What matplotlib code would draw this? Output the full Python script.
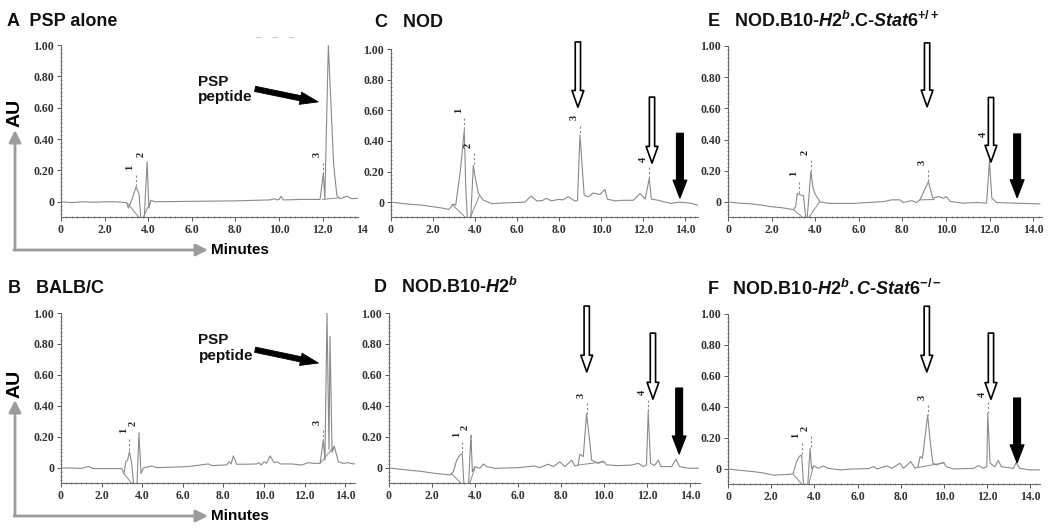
import matplotlib
matplotlib.use('Agg')
import matplotlib.pyplot as plt
from matplotlib.ticker import MultipleLocator, FixedLocator
from matplotlib.patches import FancyArrowPatch

W, H = 1050, 531

plt.rcParams['font.family'] = ['Liberation Sans', 'DejaVu Sans']
plt.rcParams['mathtext.fontset'] = 'custom'
plt.rcParams['mathtext.rm'] = 'Liberation Sans:bold'
plt.rcParams['mathtext.bf'] = 'Liberation Sans:bold'
plt.rcParams['mathtext.it'] = 'Liberation Sans:italic:bold'

# ---- chromatogram traces (minutes, AU) ----
A_TIME = [0, 0.5, 1.0, 1.5, 2.0, 2.5, 3.0, 3.09, 3.27, 3.44, 3.58, 3.68, 3.8, 3.95, 4.03, 4.12,
          4.3, 6.0, 8.0, 9.6, 9.8, 9.9, 10.0, 10.09, 10.2, 11.0, 11.88, 12.03, 12.1, 12.26,
          12.5, 12.65, 12.8, 13.1, 13.33, 13.7]
A_AU = [0, -0.005, 0.0, -0.003, 0.0, 0.0, -0.005, -0.04, 0.02, 0.095, 0.05, -0.15, -0.15, 0.255,
        -0.04, 0.01, 0.0, 0.003, 0.006, 0.012, 0.02, 0.012, 0.015, 0.035, 0.012, 0.015, 0.015,
        0.18, 0.02, 1.0, 0.245, 0.04, 0.02, 0.035, 0.02, 0.022]

B_TIME = [0, 0.5, 1.0, 1.35, 1.6, 2.0, 2.99, 3.1, 3.19, 3.28, 3.37, 3.48, 3.61, 3.73, 3.84, 3.94,
          4.06, 4.47, 4.7, 6.27, 7.26, 7.45, 8.16, 8.28, 8.38, 8.49, 8.65, 9.06, 9.64, 9.75,
          9.87, 10.0, 10.12, 10.3, 10.5, 10.65, 10.8, 11.36, 11.85, 12.18, 12.42, 12.76, 12.92,
          13.0, 13.1, 13.2, 13.25, 13.35, 13.46, 13.66, 13.9, 14.15, 14.4, 14.55]
B_AU = [0, 0.0, -0.003, 0.01, -0.004, -0.004, -0.004, -0.035, 0.04, 0.05, 0.105, 0.03, -0.15,
        -0.15, 0.224, -0.035, 0.0, 0.013, 0.002, 0.009, 0.026, 0.015, 0.02, 0.04, 0.026, 0.078,
        0.024, 0.024, 0.026, 0.034, 0.019, 0.04, 0.03, 0.078, 0.034, 0.04, 0.026, 0.026, 0.019,
        0.034, 0.03, 0.03, 0.18, 0.05, 1.0, 0.12, 0.85, 0.1, 0.14, 0.04, 0.03, 0.034, 0.026, 0.03]

C_TIME = [0, 0.5, 1.0, 1.5, 2.0, 2.5, 2.75, 2.97, 3.08, 3.3, 3.49, 3.56, 3.65, 3.78, 3.92, 4.0,
          4.16, 4.4, 4.8, 5.4, 6.38, 6.67, 6.94, 7.2, 7.4, 7.65, 7.97, 8.2, 8.44, 8.75, 8.88,
          9.0, 9.2, 9.4, 9.63, 9.95, 10.19, 10.3, 10.67, 11.0, 11.54, 11.86, 12.1, 12.3, 12.4,
          12.73, 13.05, 13.37, 13.68, 14.0, 14.3, 14.6]
C_AU = [0.0, -0.008, -0.015, -0.02, -0.03, -0.04, -0.048, -0.013, -0.02, 0.2, 0.47, 0.1, -0.15,
        -0.15, 0.24, 0.17, 0.057, 0.013, -0.01, -0.005, 0.0, 0.04, 0.008, 0.01, 0.025, 0.008,
        0.018, 0.015, 0.035, 0.008, 0.01, 0.44, 0.045, 0.035, 0.06, 0.05, 0.083, 0.02, 0.008,
        0.012, 0.012, 0.057, 0.02, 0.155, 0.02, 0.012, 0.0, -0.008, 0.0, -0.003, -0.008, -0.02]

D_TIME = [0, 0.5, 1.0, 1.5, 2.14, 2.5, 2.84, 2.99, 3.15, 3.3, 3.41, 3.5, 3.69, 3.81, 3.88, 4.0,
          4.23, 4.39, 4.54, 4.93, 6.0, 6.79, 7.0, 7.41, 7.65, 7.95, 8.18, 8.5, 8.65, 8.8, 8.88,
          9.04, 9.19, 9.3, 9.43, 9.74, 9.97, 10.12, 10.67, 11.29, 11.6, 11.83, 11.98, 12.06,
          12.17, 12.35, 12.53, 12.65, 13.15, 13.35, 13.52, 13.92, 14.39]
D_AU = [0, -0.008, -0.015, -0.022, -0.035, -0.04, -0.045, -0.024, 0.05, 0.084, 0.09, -0.15,
        -0.15, 0.213, -0.024, 0.009, -0.002, 0.026, 0.009, -0.002, 0.002, 0.013, 0.002, 0.024,
        0.009, 0.04, 0.009, 0.05, 0.013, 0.019, 0.09, 0.073, 0.35, 0.22, 0.05, 0.03, 0.045,
        0.02, 0.015, 0.019, 0.03, 0.009, 0.019, 0.365, 0.03, 0.015, 0.05, 0.009, 0.009, 0.056,
        0.009, -0.002, -0.002]

E_TIME = [0, 0.5, 1.0, 1.5, 1.93, 2.5, 3.0, 3.1, 3.18, 3.3, 3.46, 3.6, 3.68, 3.8, 3.9, 4.0,
          4.22, 4.68, 5.75, 6.67, 7.13, 7.5, 7.89, 8.04, 8.42, 8.65, 8.8, 9.19, 9.39, 9.65,
          9.88, 10.0, 10.2, 10.8, 11.4, 11.86, 11.99, 12.1, 12.32, 13.1, 14.3]
E_AU = [0, -0.008, -0.012, -0.02, -0.03, -0.038, -0.05, -0.03, 0.055, 0.045, 0.04, -0.15,
        -0.02, 0.195, 0.09, 0.05, 0.0, -0.01, -0.01, -0.002, 0.002, 0.013, 0.013, -0.004,
        0.008, -0.004, 0.013, 0.13, 0.023, 0.034, 0.023, 0.034, 0.002, -0.008, -0.004, -0.008,
        0.26, 0.023, -0.004, -0.008, -0.013]

F_TIME = [0, 0.5, 1.17, 1.6, 2.1, 2.5, 2.87, 3.02, 3.15, 3.29, 3.41, 3.52, 3.67, 3.8, 3.87,
          3.98, 4.18, 4.41, 4.64, 5.19, 5.8, 6.5, 6.73, 6.9, 7.35, 7.58, 7.96, 8.12, 8.46, 8.66,
          8.8, 8.89, 9.0, 9.24, 9.35, 9.48, 9.66, 9.97, 10.1, 10.43, 11.36, 11.59, 11.82, 11.98,
          12.02, 12.13, 12.35, 12.51, 12.65, 13.21, 13.33, 13.5, 13.98, 14.44]
F_AU = [0, -0.008, -0.017, -0.025, -0.04, -0.037, -0.035, -0.028, 0.037, 0.08, 0.09, -0.15,
        -0.15, 0.133, 0.0, 0.02, 0.004, 0.02, 0.004, -0.006, 0.0, 0.002, 0.015, 0.0, 0.02,
        0.004, 0.037, 0.004, 0.047, 0.004, 0.015, 0.08, 0.069, 0.348, 0.19, 0.037, 0.026,
        0.043, 0.015, 0.0, 0.004, 0.022, 0.004, 0.015, 0.36, 0.037, 0.015, 0.054, 0.015, 0.004,
        0.04, 0.004, -0.006, -0.006]

# integration drop lines (t0, y0, t1, y1)
A_DROPS = [(3.05, -0.01, 3.7, -0.12), (3.7, -0.12, 4.1, 0.0), (12.0, 0.015, 12.7, 0.025)]
B_DROPS = [(3.1, -0.035, 3.6, -0.12), (12.76, 0.03, 13.46, 0.14)]
C_DROPS = [(2.9, -0.015, 3.7, -0.12), (3.72, -0.12, 4.2, 0.04)]
D_DROPS = [(2.9, -0.035, 3.5, -0.12), (3.7, -0.12, 4.0, 0.0), (8.8, 0.019, 10.0, 0.04)]
E_DROPS = [(3.0, -0.05, 3.6, -0.12), (3.6, -0.12, 4.2, 0.0), (8.8, 0.013, 9.45, 0.015)]
F_DROPS = [(3.0, -0.03, 3.55, -0.12), (3.7, -0.12, 3.95, 0.02), (8.8, 0.01, 10.0, 0.04)]

# numbered peak marks (label, t, dashed top, dashed bottom)
A_PEAKS = [('1', 3.44, 0.17, 0.10), ('2', 3.93, 0.25, 0.24), ('3', 12.0, 0.25, 0.18)]
B_PEAKS = [('1', 3.35, 0.19, 0.105), ('2', 3.84, 0.235, 0.224), ('3', 12.9, 0.245, 0.18)]
C_PEAKS = [('1', 3.49, 0.55, 0.47), ('2', 3.94, 0.32, 0.24), ('3', 9.0, 0.50, 0.45),
           ('4', 12.3, 0.23, 0.155)]
D_PEAKS = [('1', 3.41, 0.17, 0.095), ('2', 3.81, 0.21, 0.15), ('3', 9.22, 0.42, 0.35),
           ('4', 12.06, 0.44, 0.365)]
E_PEAKS = [('1', 3.26, 0.13, 0.055), ('2', 3.8, 0.27, 0.195), ('3', 9.19, 0.205, 0.13),
           ('4', 11.99, 0.385, 0.26)]
F_PEAKS = [('1', 3.41, 0.165, 0.09), ('2', 3.83, 0.21, 0.133), ('3', 9.27, 0.41, 0.348),
           ('4', 12.02, 0.43, 0.36)]

# block arrows (t, y_top, y_tip)
C_OPEN = [(8.9, 1.046, 0.62), (12.43, 0.686, 0.255)]
C_BLACK = [(13.76, 0.45, 0.026)]
D_OPEN = [(9.2, 1.045, 0.62), (12.28, 0.87, 0.445)]
D_BLACK = [(13.5, 0.516, 0.09)]
E_OPEN = [(9.13, 1.02, 0.61), (12.06, 0.67, 0.256)]
E_BLACK = [(13.26, 0.436, 0.026)]
F_OPEN = [(9.2, 1.05, 0.626), (12.17, 0.877, 0.45)]
F_BLACK = [(13.38, 0.458, 0.039)]

X_TICKS = [0, 2, 4, 6, 8, 10, 12, 14]
X_LABELS = ['0', '2.0', '4.0', '6.0', '8.0', '10.0', '12.0', '14.0']
Y_TICKS = [0, 0.2, 0.4, 0.6, 0.8, 1.0]
Y_LABELS = ['0', '0.20', '0.40', '0.60', '0.80', '1.00']

TRACE = '#8a8a8a'
SERIF = 'Liberation Serif'


def fig_xy(x, y):
    return x / W, 1 - y / H


def make_axes(fig, left, right, top, bottom, xmax):
    ax = fig.add_axes([left / W, 1 - bottom / H, (right - left) / W, (bottom - top) / H])
    ax.set_xlim(0, xmax)
    ax.set_ylim(-0.097, 1.0)
    for s in ('top', 'right'):
        ax.spines[s].set_visible(False)
    for s in ('left', 'bottom'):
        ax.spines[s].set_color('#6a6a6a')
        ax.spines[s].set_linewidth(0.8)
    ax.xaxis.set_major_locator(FixedLocator(X_TICKS))
    ax.set_xticklabels(X_LABELS)
    ax.yaxis.set_major_locator(FixedLocator(Y_TICKS))
    ax.set_yticklabels(Y_LABELS)
    ax.xaxis.set_minor_locator(MultipleLocator(0.25))
    ax.yaxis.set_minor_locator(MultipleLocator(0.025))
    ax.tick_params(which='major', length=3, width=0.7, color='#555', pad=2,
                   labelsize=8.5, labelcolor='#333')
    ax.tick_params(which='minor', length=1.5, width=0.6, color='#777', direction='inout')
    for lab in ax.get_xticklabels() + ax.get_yticklabels():
        lab.set_family(SERIF)
        lab.set_weight('bold')
    ax.patch.set_alpha(0)
    return ax


def draw_trace(ax, t, au, drops, peaks):
    ax.plot(t, au, color=TRACE, lw=0.8)
    for t0, y0, t1, y1 in drops:
        ax.plot([t0, t1], [y0, y1], color=TRACE, lw=0.7)
    for lab, x, ytop, ybot in peaks:
        ax.plot([x, x], [ytop, ybot], color='#888', lw=0.8, dashes=(2, 2))
        ax.text(x - 0.27, ytop + 0.05, lab, rotation=90, fontsize=7.5, family=SERIF,
                weight='bold', color='#222', ha='center', va='center')


def draw_block_arrows(ax, opens, blacks):
    for x, ytop, ytip in opens:
        ax.annotate('', xy=(x, ytip), xytext=(x, ytop), annotation_clip=False,
                    arrowprops=dict(arrowstyle='simple,head_width=0.85,head_length=1.2,tail_width=0.38',
                                    fc='white', ec='black', lw=1.2, shrinkA=0, shrinkB=0,
                                    mutation_scale=10))
    for x, ytop, ytip in blacks:
        ax.annotate('', xy=(x, ytip), xytext=(x, ytop), annotation_clip=False,
                    arrowprops=dict(arrowstyle='simple,head_width=1.0,head_length=1.3,tail_width=0.5',
                                    fc='black', ec='black', lw=0.8, shrinkA=0, shrinkB=0,
                                    mutation_scale=10))


def psp_label(ax, tx, ty, tail, tip):
    ax.text(tx, ty, 'PSP\npeptide', fontsize=11, weight='bold', va='top', ha='left',
            linespacing=1.15, color='#111')
    ax.annotate('', xy=tip, xytext=tail, annotation_clip=False,
                arrowprops=dict(arrowstyle='simple,head_width=0.9,head_length=1.3,tail_width=0.38',
                                fc='black', ec='black', lw=0.6, shrinkA=0, shrinkB=0,
                                mutation_scale=10))


def gray_axes_arrows(fig, y_base, y_tip):
    kw = dict(arrowstyle='-|>,head_length=0.6,head_width=0.3', color='#9c9c9c', lw=2,
              mutation_scale=12, transform=fig.transFigure, shrinkA=0, shrinkB=0)
    fig.add_artist(FancyArrowPatch(fig_xy(15, y_base), fig_xy(15, y_tip), **kw))
    fig.add_artist(FancyArrowPatch(fig_xy(14, y_base), fig_xy(208, y_base), **kw))
    fig.text(*fig_xy(211, y_base), 'Minutes', fontsize=11, weight='bold', va='center', ha='left')


fig = plt.figure(figsize=(W / 100, H / 100), dpi=100)
fig.patch.set_facecolor('white')

# panel A
ax = make_axes(fig, 61, 358, 45, 217, 13.62)
draw_trace(ax, A_TIME, A_AU, A_DROPS, A_PEAKS)
psp_label(ax, 6.28, 0.81, (8.9, 0.72), (11.79, 0.637))
ax.text(13.55, -0.178, '14', family=SERIF, weight='bold', fontsize=8.5, color='#333',
        va='center', ha='left')
ax.text(9.8, 1.05, '\u2013    \u2013    \u2013', color='#bbb', fontsize=7, ha='center',
        va='center')

# panel B
ax = make_axes(fig, 61, 355, 313, 483, 14.48)
draw_trace(ax, B_TIME, B_AU, B_DROPS, B_PEAKS)
psp_label(ax, 6.77, 0.87, (9.56, 0.763), (12.68, 0.677))

# panel C
ax = make_axes(fig, 391, 698, 49, 217, 14.62)
draw_trace(ax, C_TIME, C_AU, C_DROPS, C_PEAKS)
draw_block_arrows(ax, C_OPEN, C_BLACK)

# panel D
ax = make_axes(fig, 389, 700, 313, 483, 14.47)
draw_trace(ax, D_TIME, D_AU, D_DROPS, D_PEAKS)
draw_block_arrows(ax, D_OPEN, D_BLACK)

# panel E
ax = make_axes(fig, 728, 1042, 46, 217, 14.4)
draw_trace(ax, E_TIME, E_AU, E_DROPS, E_PEAKS)
draw_block_arrows(ax, E_OPEN, E_BLACK)

# panel F
ax = make_axes(fig, 728, 1040, 314, 484, 14.44)
draw_trace(ax, F_TIME, F_AU, F_DROPS, F_PEAKS)
draw_block_arrows(ax, F_OPEN, F_BLACK)

# panel titles
TITLE_KW = dict(fontsize=13, weight='bold', va='baseline', ha='left', color='#111')
fig.text(*fig_xy(7, 26), 'A  PSP alone', **TITLE_KW)
fig.text(*fig_xy(375, 27), 'C   NOD', **TITLE_KW)
fig.text(*fig_xy(707, 27), r'E   NOD.B10-$\mathit{H2}^{b}$.C-$\mathit{Stat6}^{+/+}$', **TITLE_KW)
fig.text(*fig_xy(8, 293), 'B   BALB/C', **TITLE_KW)
fig.text(*fig_xy(373, 293), r'D   NOD.B10-$\mathit{H2}^{b}$', **TITLE_KW)
fig.text(*fig_xy(707, 295), r'F   NOD.B10-$\mathit{H2}^{b}$$\mathit{.C}$-$\mathit{Stat6}^{-/-}$',
         **TITLE_KW)

# AU labels and gray axis arrows
fig.text(*fig_xy(15, 113), 'AU', fontsize=14, weight='bold', rotation=90, ha='center',
         va='center')
fig.text(*fig_xy(15, 384), 'AU', fontsize=14, weight='bold', rotation=90, ha='center',
         va='center')
gray_axes_arrows(fig, 250, 130)
gray_axes_arrows(fig, 516, 400)

fig.savefig('out.png', dpi=100, facecolor='white')
